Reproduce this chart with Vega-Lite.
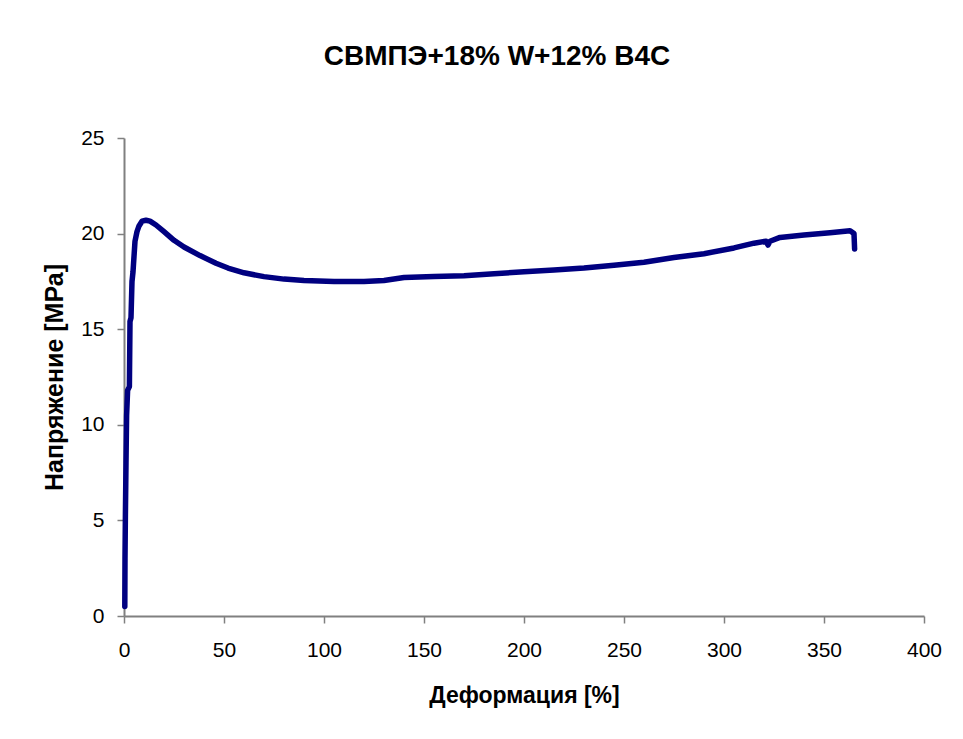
{
  "$schema": "https://vega.github.io/schema/vega-lite/v6.json",
  "autosize": "none",
  "width": 800,
  "height": 478,
  "padding": {"left": 124, "top": 138, "right": 39, "bottom": 123},
  "background": "white",
  "title": {
    "text": "СВМПЭ+18% W+12% B4C",
    "font": "Liberation Sans",
    "fontSize": 28,
    "fontWeight": "bold",
    "color": "black",
    "anchor": "middle",
    "dx": -27,
    "offset": 56
  },
  "config": {
    "view": {"stroke": null},
    "axis": {
      "grid": false,
      "domainColor": "#808080",
      "domainWidth": 2,
      "tickColor": "#808080",
      "tickWidth": 1.5,
      "tickSize": 7,
      "labelFont": "Liberation Sans",
      "labelFontSize": 21,
      "labelColor": "black",
      "labelFlush": false,
      "labelOverlap": false,
      "titleFont": "Liberation Sans",
      "titleFontWeight": "bold",
      "titleColor": "black"
    }
  },
  "data": {
    "values": [
      {"d": 0.4, "s": 0.5},
      {"d": 0.5, "s": 3},
      {"d": 0.7, "s": 5.3},
      {"d": 1.0, "s": 8},
      {"d": 1.3, "s": 10.5},
      {"d": 1.8, "s": 11.8},
      {"d": 2.7, "s": 12},
      {"d": 3.0, "s": 15.4},
      {"d": 3.5, "s": 15.6},
      {"d": 4.0, "s": 17.5},
      {"d": 4.5, "s": 18.0},
      {"d": 5.0, "s": 18.8},
      {"d": 5.5, "s": 19.6},
      {"d": 6.5, "s": 20.1},
      {"d": 7.5, "s": 20.4},
      {"d": 9, "s": 20.65},
      {"d": 11, "s": 20.7},
      {"d": 13, "s": 20.65},
      {"d": 16, "s": 20.45},
      {"d": 20, "s": 20.1},
      {"d": 25, "s": 19.65},
      {"d": 30, "s": 19.3},
      {"d": 38, "s": 18.85},
      {"d": 46, "s": 18.45},
      {"d": 52, "s": 18.2},
      {"d": 60, "s": 17.95},
      {"d": 70, "s": 17.75},
      {"d": 80, "s": 17.62},
      {"d": 90, "s": 17.55},
      {"d": 105, "s": 17.5},
      {"d": 120, "s": 17.5},
      {"d": 130, "s": 17.55},
      {"d": 140, "s": 17.7},
      {"d": 155, "s": 17.75},
      {"d": 170, "s": 17.8},
      {"d": 185, "s": 17.9},
      {"d": 200, "s": 18.0},
      {"d": 215, "s": 18.1},
      {"d": 230, "s": 18.2},
      {"d": 245, "s": 18.35},
      {"d": 260, "s": 18.5},
      {"d": 275, "s": 18.75},
      {"d": 290, "s": 18.95},
      {"d": 305, "s": 19.25},
      {"d": 315, "s": 19.5},
      {"d": 321, "s": 19.6},
      {"d": 322, "s": 19.4},
      {"d": 323, "s": 19.6},
      {"d": 328, "s": 19.8},
      {"d": 340, "s": 19.93},
      {"d": 353, "s": 20.05},
      {"d": 363, "s": 20.15},
      {"d": 365, "s": 20.0},
      {"d": 365.3, "s": 19.2}
    ]
  },
  "mark": {"type": "line", "color": "#000080", "strokeWidth": 5.5, "strokeJoin": "round", "strokeCap": "round"},
  "encoding": {
    "x": {
      "field": "d", "type": "quantitative", "sort": null,
      "scale": {"domain": [0, 400], "nice": false, "zero": false},
      "axis": {"title": "Деформация [%]", "titleFontSize": 23, "values": [0, 50, 100, 150, 200, 250, 300, 350, 400], "labelPadding": 16, "titlePadding": 24}
    },
    "y": {
      "field": "s", "type": "quantitative",
      "scale": {"domain": [0, 25], "nice": false},
      "axis": {"title": "Напряжение [МРа]", "titleFontSize": 25, "values": [0, 5, 10, 15, 20, 25], "labelPadding": 13, "titlePadding": 13}
    },
    "order": {"field": "d", "type": "quantitative"}
  }
}
